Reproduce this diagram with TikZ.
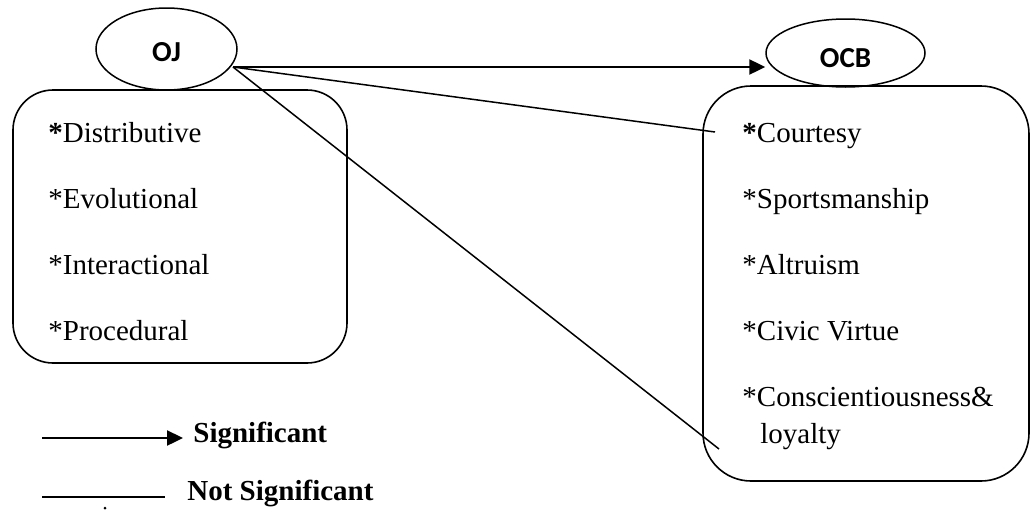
\documentclass[tikz,border=0pt]{standalone}
\usepackage{fontspec}
\setmainfont{Liberation Serif}
\newfontfamily\calibrifont{Carlito}
\usepackage{tikz}
\usetikzlibrary{arrows.meta, shapes.geometric, positioning}
\tikzset{
  construct/.style={draw, ellipse, line width=0.75pt, inner sep=0pt, text depth=0pt,
    font=\calibrifont\bfseries\fontsize{14.5}{17}\selectfont},
  factorbox/.style={draw, line width=0.8pt},
  item/.style={anchor=base west, inner sep=0pt, font=\fontsize{14.5}{17}\selectfont},
  legendtext/.style={anchor=base west, inner sep=0pt, font=\bfseries\fontsize{14.5}{17}\selectfont},
  sig/.style={line width=1.2pt, -{Triangle[length=8pt, width=7.5pt]}},
  nonsig/.style={line width=0.75pt}
}

\begin{document}
\begin{tikzpicture}[x=0.5pt, y=-0.5pt]
  \useasboundingbox (0,0) rectangle (1031,514);

  % --- OJ side ---
  \node[construct, text height=12.5pt, minimum width=70.5pt, minimum height=41pt] (oj) at (166.5,49) {OJ};
  \draw[factorbox, rounded corners=20pt] (13,90) rectangle (347,363);
  \node[item] (oj0) at (48,142) {\textbf{*}Distributive};
  \foreach \dim [count=\i] in {Evolutional, Interactional, Procedural}
    \node[item] (oj\i) at (48,{142+66*\i}) {*\dim};

  % --- OCB side ---
  \node[construct, text height=14pt, minimum width=79.5pt, minimum height=34pt] (ocb) at (845.5,53) {OCB};
  \draw[factorbox, rounded corners=24pt] (703,86) rectangle (1029,481);
  \node[item] (ocb0) at (742,142) {\textbf{*}Courtesy};
  \foreach \dim [count=\i] in {Sportsmanship, Altruism, Civic Virtue, Conscientiousness\&}
    \node[item] (ocb\i) at (742,{142+66*\i}) {*\dim};
  \node[item] (ocb5) at (760,443) {loyalty};

  % --- paths ---
  \coordinate (ojout) at (233,67);
  \coordinate (toCourtesy) at (715,132);
  \coordinate (toLoyalty) at (719,449);
  \draw[sig] (ojout) -- (ojout -| ocb.west);
  \draw[nonsig] (ojout) -- (toCourtesy);
  \draw[nonsig] (ojout) -- (toLoyalty);

  % --- legend ---
  \coordinate (sigA) at (42,438);
  \coordinate (sigB) at (183,438);
  \draw[sig] (sigA) -- (sigB);
  \node[legendtext] (sigtxt) at (193,442) {Significant};
  \coordinate (nsA) at (42,497);
  \coordinate (nsB) at (165,497);
  \draw[nonsig] (nsA) -- (nsB);
  \node[legendtext] (nstxt) at (187,500) {Not Significant};
  \fill (105,508) circle (1.5);
\end{tikzpicture}
\end{document}
